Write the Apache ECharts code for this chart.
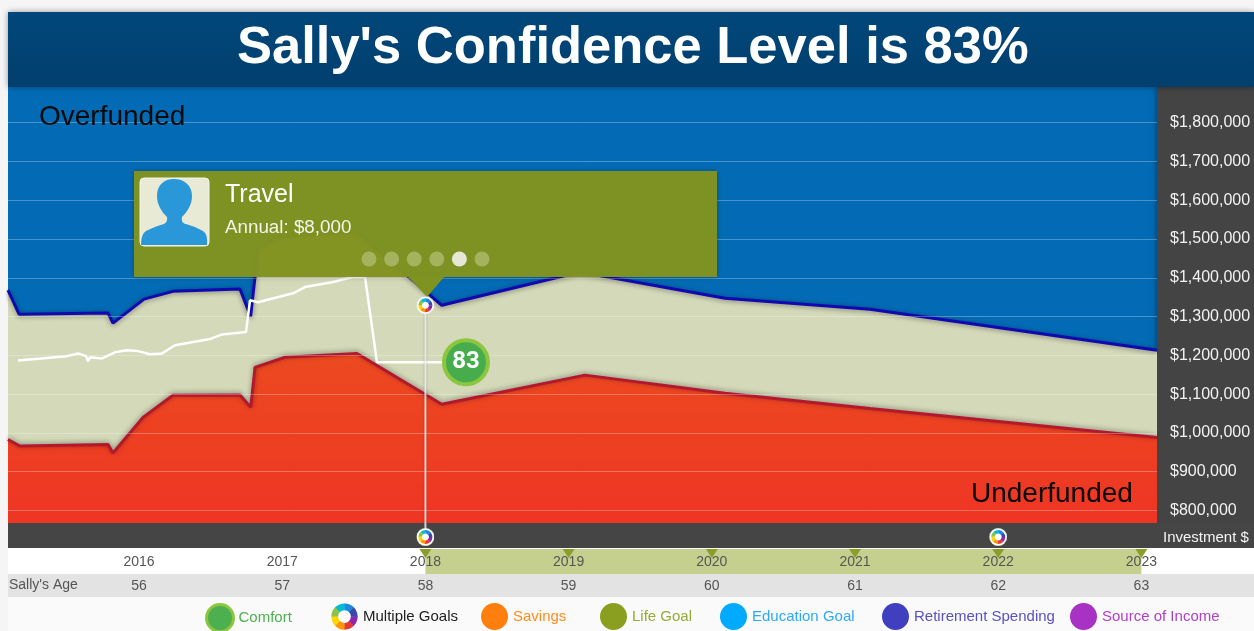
<!DOCTYPE html>
<html>
<head>
<meta charset="utf-8">
<style>html,body{margin:0;padding:0;background:#f5f5f5}#main{width:1254px;height:631px}</style>
<script src="https://cdn.jsdelivr.net/npm/echarts@6/dist/echarts.min.js"></script>
</head>
<body>
<div id="main"></div>
<script>
// data
var years = [2016, 2017, 2018, 2019, 2020, 2021, 2022, 2023];
var ages = [56, 57, 58, 59, 60, 61, 62, 63];
var dollarTicks = [800000, 900000, 1000000, 1100000, 1200000, 1300000, 1400000, 1500000, 1600000, 1700000, 1800000];

var upperX = [2015.085, 2015.162, 2015.784, 2015.818, 2016.035, 2016.237, 2016.705, 2016.779, 2016.810, 2016.824, 2016.971, 2017.522, 2018.114, 2019.080, 2020.092, 2021.105, 2023.109];
var upperY = [1368000, 1306000, 1309000, 1283000, 1345000, 1365000, 1371000, 1300000, 1402000, 1476000, 1505000, 1518000, 1329000, 1415000, 1347000, 1319000, 1213000];

var lowerX = [2015.085, 2015.169, 2015.784, 2015.818, 2016.028, 2016.237, 2016.705, 2016.780, 2016.810, 2017.020, 2017.522, 2018.114, 2019.114, 2020.092, 2021.105, 2023.109];
var lowerY = [983000, 966000, 970000, 948000, 1040000, 1097000, 1098000, 1066000, 1169000, 1195000, 1205000, 1074000, 1149000, 1102000, 1063000, 988000];

var confX = [2015.155, 2015.497, 2015.574, 2015.630, 2015.644, 2015.658, 2015.742, 2015.832, 2015.916, 2015.993, 2016.077, 2016.161, 2016.251, 2016.496, 2016.580, 2016.747, 2016.775, 2016.831, 2017.075, 2017.159, 2017.355, 2017.494, 2017.578, 2017.662, 2018.283];
var confY = [1187000, 1198000, 1205000, 1198000, 1185000, 1195000, 1192000, 1208000, 1213000, 1211000, 1203000, 1205000, 1226000, 1242000, 1254000, 1260000, 1342000, 1337000, 1360000, 1376000, 1389000, 1402000, 1402000, 1182000, 1182000];

var confidence = 83;
var goalYears = [2018, 2022];
var goalValue = 1329000;
var travelYears = [2018, 2019, 2020, 2021, 2022, 2023];

var legendNames = ['Comfort', 'Multiple Goals', 'Savings', 'Life Goal', 'Education Goal', 'Retirement Spending', 'Source of Income'];
var dotLabels = [0, 1, 2, 3, 4, 5];

// layout
var xMin = 2015.085, xMax = 2023.109;
var yMin = 767700, yMax = 1892000;
var font = '"Liberation Sans", Arial, sans-serif';
var legendLeft = [205, 331, 481, 600, 720, 882, 1070];
var legendColor = ['#4caf50', '#000', '#ff7f0e', '#8a9f20', '#00aaff', '#3f3fbf', '#a832c4'];
var legendText = ['#4caf50', '#222', '#ff8c1a', '#96a838', '#2eaaf5', '#5a4fc4', '#b040c8'];

function zip(a, b) {
  return a.map(function (v, i) { return [v, b[i]]; });
}

function svgUri(s) {
  return 'data:image/svg+xml;charset=utf-8,' + encodeURIComponent(s);
}

// little coloured ring used for "multiple goals"
function ring(outer) {
  var cols = ['#8e24aa', '#e53935', '#ff9800', '#ffd600', '#8bc34a', '#00bcd4', '#1e88e5', '#3949ab'];
  var s = '<svg xmlns="http://www.w3.org/2000/svg" width="72" height="72" viewBox="0 0 36 36">';
  if (outer) s += '<circle cx="18" cy="18" r="17.5" fill="#fff" stroke="#ddd" stroke-width="1"/>';
  else s += '<circle cx="18" cy="18" r="17" fill="#fff"/>';
  var r = outer ? 10.5 : 13, w = outer ? 7 : 9;
  cols.forEach(function (c, i) {
    s += '<circle cx="18" cy="18" r="' + r + '" fill="none" stroke="' + c + '" stroke-width="' + w +
      '" pathLength="8" stroke-dasharray="1.05 6.95" stroke-dashoffset="' + (-i) + '"/>';
  });
  s += '</svg>';
  return 'image://' + svgUri(s);
}

// person icon of the callout
var avatar = svgUri('<svg xmlns="http://www.w3.org/2000/svg" width="138" height="136" viewBox="140 178 69 68">' +
  '<path fill="#2a98d8" d="M141 245 Q141 234 146 231 Q156 226 164 224 Q168 222 167 217 C162 212 157 205 157 196 C157 185 164 179 174 179 C184 179 192 185 192 196 C192 205 187 212 182 217 C181 222 184 224 186 224 Q194 226 203 231 Q208 234 207 245 Z"/></svg>');

var chart = echarts.init(document.getElementById('main'));

var graphics = [
  { type: 'rect', z: 8, shape: { x: 8, y: 12, width: 1246, height: 75 },
    style: { fill: { type: 'linear', x: 0, y: 0, x2: 0, y2: 1, colorStops: [{ offset: 0, color: '#01477a' }, { offset: 1, color: '#013f6e' }] }, shadowBlur: 6, shadowColor: 'rgba(0,0,0,.4)' } },
  { type: 'rect', z: 1, shape: { x: 1157, y: 87, width: 97, height: 436 }, style: { fill: '#444', shadowBlur: 6, shadowColor: 'rgba(0,0,0,.5)' } },
  { type: 'rect', z: 1, shape: { x: 8, y: 523, width: 1246, height: 25 }, style: { fill: '#454545' } },
  { type: 'rect', z: 0, shape: { x: 8, y: 548, width: 1246, height: 26 }, style: { fill: '#fff' } },
  { type: 'rect', z: 0, shape: { x: 8, y: 574, width: 1246, height: 23 }, style: { fill: '#e3e3e3' } },
  { type: 'rect', z: 0, shape: { x: 8, y: 597, width: 1246, height: 34 }, style: { fill: '#fafafa' } },
  { type: 'text', z: 9, x: 39, y: 103, style: { text: 'Overfunded', fill: '#0a0a0a', font: '28px ' + font } },
  { type: 'text', z: 9, x: 971, y: 480, style: { text: 'Underfunded', fill: '#0a0a0a', font: '28px ' + font } },
  { type: 'text', z: 9, x: 1163, y: 530, style: { text: 'Investment $', fill: '#f4f4f4', font: '15px ' + font } },
  { type: 'text', z: 9, x: 9, y: 578, style: { text: "Sally's Age", fill: '#555', font: '14px ' + font } },
  // travel callout
  { type: 'rect', z: 20, shape: { x: 134, y: 171, width: 583, height: 106 }, style: { fill: 'rgba(130,148,32,.97)', shadowBlur: 5, shadowColor: 'rgba(0,0,0,.3)' } },
  { type: 'polygon', z: 20, shape: { points: [[408, 277], [444, 277], [427, 297]] }, style: { fill: 'rgba(130,148,32,.98)' } },
  { type: 'rect', z: 21, shape: { x: 140, y: 178, width: 69, height: 68, r: 4 }, style: { fill: '#e8ead6', stroke: '#f4f5ea', lineWidth: 1 } },
  { type: 'image', z: 22, style: { image: avatar, x: 140, y: 178, width: 69, height: 68 } },
  { type: 'text', z: 22, x: 225, y: 183, style: { text: 'Travel', fill: '#fff', font: '25px ' + font } },
  { type: 'text', z: 22, x: 225, y: 218, style: { text: 'Annual: $8,000', fill: '#f4f5e6', font: '18.8px ' + font } }
];
dotLabels.forEach(function (d) {
  graphics.push({ type: 'circle', z: 22, shape: { cx: 369 + d * 22.6, cy: 259, r: 7.5 }, style: { fill: d === 4 ? '#e6e8d5' : '#a5b25e' } });
});

var series = [
  { name: 'upperArea', type: 'line', data: zip(upperX, upperY), z: 2, showSymbol: false, silent: true,
    lineStyle: { color: '#1208b0', width: 3, shadowBlur: 5, shadowColor: 'rgba(0,0,0,.45)', shadowOffsetY: 1 },
    areaStyle: { color: '#d4d9b9', origin: 'start', opacity: 1 } },
  { name: 'lowerArea', type: 'line', data: zip(lowerX, lowerY), z: 3, showSymbol: false, silent: true,
    lineStyle: { color: '#b3182e', width: 3, shadowBlur: 5, shadowColor: 'rgba(0,0,0,.4)', shadowOffsetY: -1 },
    areaStyle: { origin: 'start', opacity: 1, color: { type: 'linear', x: 0, y: 0, x2: 0, y2: 1, colorStops: [{ offset: 0, color: '#ec4a20' }, { offset: 1, color: '#ee3524' }] } } },
  { name: 'confidencePath', type: 'line', data: zip(confX, confY), z: 6, showSymbol: false, silent: true,
    lineStyle: { color: '#fff', width: 2.5 } },
  { name: 'goalRule', type: 'line', data: [[goalYears[0], goalValue], [goalYears[0], yMin]], z: 7, showSymbol: false, silent: true,
    lineStyle: { color: 'rgba(255,255,255,.75)', width: 2, shadowBlur: 2, shadowColor: 'rgba(0,0,0,.4)' } },
  { name: 'goalTop', type: 'scatter', data: [[goalYears[0], goalValue]], z: 30, symbol: ring(true), symbolSize: 18, silent: true, itemStyle: { opacity: 1 } },
  { name: 'badge', type: 'scatter', data: [[confX[confX.length - 1], confY[confY.length - 1]]], z: 30, symbol: 'circle', symbolSize: 44, silent: true,
    itemStyle: { color: '#47ad4c', borderColor: '#8cc63f', borderWidth: 4, opacity: 1 },
    label: { show: true, position: 'inside', formatter: String(confidence), color: '#fff', fontFamily: 'Roboto', fontWeight: 'bold', fontSize: 24 } },
  // dark band
  { name: 'goalRuleBand', type: 'line', xAxisIndex: 1, yAxisIndex: 1, data: [[goalYears[0], 1], [goalYears[0], 0.44]], z: 7, showSymbol: false, silent: true,
    lineStyle: { color: 'rgba(255,255,255,.75)', width: 2 } },
  { name: 'goals', type: 'scatter', xAxisIndex: 1, yAxisIndex: 1, data: goalYears.map(function (y) { return [y, 0.44]; }), z: 30, symbol: ring(true), symbolSize: 18, silent: true, itemStyle: { opacity: 1 } },
  // travel span and year tags
  { name: 'travel', type: 'scatter', xAxisIndex: 2, yAxisIndex: 2, data: travelYears.map(function (y) { return [y, 0.82]; }), z: 4, symbol: 'triangle', symbolRotate: 180, symbolSize: [12, 9], silent: true,
    itemStyle: { color: '#8a9f2a', opacity: 1 },
    markArea: { silent: true, itemStyle: { color: '#c5d08f', opacity: 1 }, data: [[{ xAxis: travelYears[0] }, { xAxis: travelYears[travelYears.length - 1] }]] } }
];

// empty series, only there to feed the legends
legendNames.forEach(function (n, i) {
  series.push({ name: n, type: 'scatter', data: [], itemStyle: { color: legendColor[i], opacity: 1 } });
});

var legends = legendNames.map(function (n, i) {
  var item = { name: n, textStyle: { color: legendText[i] } };
  if (n === 'Multiple Goals') item.icon = ring(false);
  var l = { left: legendLeft[i], top: 603, padding: 0, itemWidth: 27, itemHeight: 27, selectedMode: false, icon: 'circle',
    textStyle: { fontFamily: font, fontSize: 15 }, data: [item] };
  if (n === 'Comfort') l.itemStyle = { borderColor: '#8cc63f', borderWidth: 3 };
  return l;
});

function xAxisBase(grid) {
  return { type: 'value', gridIndex: grid, min: xMin, max: xMax, show: false, splitLine: { show: false } };
}
function yAxisBase(grid) {
  return { type: 'value', gridIndex: grid, min: 0, max: 1, show: false, splitLine: { show: false } };
}

chart.setOption({
  animation: false,
  backgroundColor: '#f5f5f5',
  textStyle: { fontFamily: font },
  title: { text: "Sally's Confidence Level is 83%", left: 237, top: 22, padding: 0, z: 9,
    textStyle: { color: '#fff', fontFamily: font, fontWeight: 'bold', fontSize: 52.5 } },
  legend: legends,
  grid: [
    { left: 8, width: 1149, top: 87, height: 436, show: true, backgroundColor: '#036bb5', borderWidth: 0, z: 0 },
    { left: 8, width: 1149, top: 523, height: 25 },
    { left: 8, width: 1149, top: 549, height: 25 },
    { left: 8, width: 1149, top: 574, height: 23 }
  ],
  xAxis: [
    xAxisBase(0),
    xAxisBase(1),
    { type: 'value', gridIndex: 2, min: xMin, max: xMax, z: 5, position: 'bottom',
      axisLine: { show: false }, axisTick: { show: false, customValues: years }, splitLine: { show: false },
      axisLabel: { customValues: years, margin: -19, color: '#555', fontSize: 14, showMinLabel: true, showMaxLabel: true, formatter: function (v) { return String(v); } } },
    { type: 'value', gridIndex: 3, min: xMin, max: xMax, z: 5, position: 'bottom',
      axisLine: { show: false }, axisTick: { show: false, customValues: years }, splitLine: { show: false },
      axisLabel: { customValues: years, margin: -18, color: '#555', fontSize: 14, formatter: function (v) { return String(ages[years.indexOf(v)]); } } }
  ],
  yAxis: [
    { type: 'value', gridIndex: 0, min: yMin, max: yMax, position: 'right', z: 5,
      axisLine: { show: false }, axisTick: { show: false, customValues: dollarTicks },
      splitLine: { show: true, lineStyle: { color: 'rgba(255,255,255,.28)', width: 1 } },
      axisLabel: { customValues: dollarTicks, margin: 13, color: '#f2f2f2', fontSize: 16,
        formatter: function (v) { return '$' + v.toLocaleString('en-US'); } } },
    yAxisBase(1), yAxisBase(2), yAxisBase(3)
  ],
  series: series,
  graphic: { elements: graphics }
});
</script>
</body>
</html>
